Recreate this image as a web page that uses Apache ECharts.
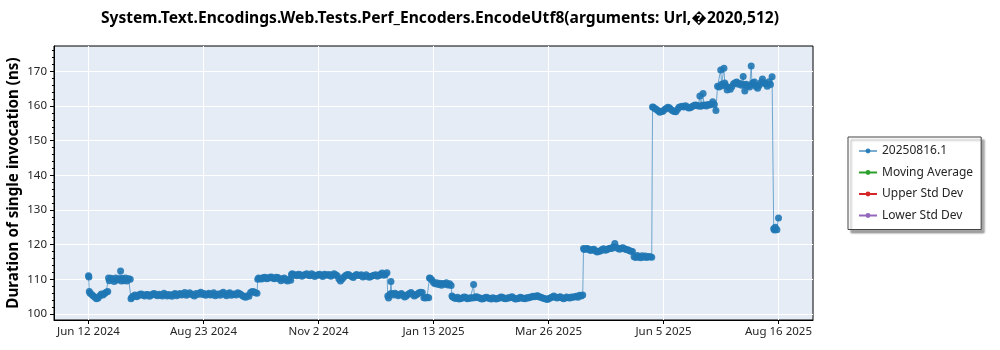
<!DOCTYPE html>
<html>
<head>
<meta charset="utf-8">
<script src="https://cdn.jsdelivr.net/npm/echarts@6/dist/echarts.min.js"></script>
<style>html,body{margin:0;padding:0;background:#fff;}#chart{width:1000px;height:350px;}</style>
</head>
<body>
<div id="chart"></div>
<script>
const titleText = 'System.Text.Encodings.Web.Tests.Perf_Encoders.EncodeUtf8(arguments: Url,\uFFFD2020,512)';
const yAxisTitle = 'Duration of single invocation (ns)';
const seriesNames = ['20250816.1', 'Moving Average', 'Upper Std Dev', 'Lower Std Dev'];
const seriesColors = ['#1f77b4', '#2ca02c', '#d62728', '#9467bd'];
const xTickLabels = ['Jun 12 2024', 'Aug 23 2024', 'Nov 2 2024', 'Jan 13 2025', 'Mar 26 2025', 'Jun 5 2025', 'Aug 16 2025'];
const xTickStart = '2024-06-12';
const xTickEnd = '2025-08-16';
const yTickValues = [100, 110, 120, 130, 140, 150, 160, 170];

// list of consecutive calendar days of a month (date categories only)
function days(ym, a, b) { const r = []; for (let d = a; d <= b; d++) r.push(ym + '-' + (d < 10 ? '0' : '') + d); return r; }

const dates = [
  '2024-06-12 00','2024-06-12 06','2024-06-12 12', ...days('2024-06',13,24),
  '2024-06-24 12', ...days('2024-06',25,30), ...days('2024-07',1,2), '2024-07-02 12', ...days('2024-07',3,8),
  '2024-07-08 12', ...days('2024-07',9,31),
  ...days('2024-08',1,31),
  ...days('2024-09',1,25),
  '2024-09-25 12', ...days('2024-09',26,30), ...days('2024-10',1,16),
  '2024-10-16 12', ...days('2024-10',17,31),
  ...days('2024-11',1,30),
  ...days('2024-12',1,15),
  '2024-12-15 12','2024-12-16','2024-12-17','2024-12-17 12', ...days('2024-12',18,31), ...days('2025-01',1,10),
  '2025-01-10 12', ...days('2025-01',11,24),
  '2025-01-24 12', ...days('2025-01',25,31),
  ...days('2025-02',1,7), '2025-02-07 12', ...days('2025-02',8,28),
  ...days('2025-03',1,31),
  ...days('2025-04',1,16),
  '2025-04-16 12', ...days('2025-04',17,30),
  ...days('2025-05',1,17),
  ...days('2025-05',18,29),
  '2025-05-29 12', ...days('2025-05',30,31), ...days('2025-06',1,28), '2025-06-28 12', '2025-06-29', '2025-06-30', '2025-06-30 12', ...days('2025-07',1,8),
  ...days('2025-07',9,11), '2025-07-11 12', ...days('2025-07',12,13), '2025-07-13 12', ...days('2025-07',14,25), '2025-07-25 12', ...days('2025-07',26,30), '2025-07-30 12', '2025-07-31',
  ...days('2025-08',1,12),
  '2025-08-13','2025-08-13 12','2025-08-14','2025-08-15','2025-08-16'
];
const values = [
  111.0,110.7,106.5, 106.0,105.6,105.2,104.8,104.4,104.6,105.3,105.8,105.5,105.9,106.3,106.5,
  110.4, 109.6,110.3,110.0,109.4,110.4,109.8, 110.2,112.4, 109.5, 110.3,109.6,110.4,109.5,110.2,110.0,
  104.4, 104.8,105.2,105.5,105.0,105.3,105.7,105.8,105.4,105.2,105.6,105.6,105.1,105.4,105.8,105.9,105.5,105.3,105.7,105.5,105.2,106.0,105.6,105.2,
  105.6,105.4,105.1,105.7,105.9,105.3,105.6,105.9,105.5,105.8,106.2,105.4,105.7,106.1,105.8,105.5,105.2,105.9,105.6,106.0,106.3,105.6,105.9,105.4,105.7,106.0,105.5,105.7,106.1,105.3,105.6,
  105.8,105.4,106.0,106.3,105.6,105.3,105.9,106.1,105.4,105.7,105.8,105.5,106.1,105.9,105.6,105.3,105.0,104.8,105.3,105.1,106.2,106.5,106.4,106.1,106.0,
  110.0, 110.4,110.2,110.1,110.5,110.6, 110.2,110.3,110.6,110.7,110.3,110.2,110.6,110.5,110.1,109.6,110.2,110.4,109.8,109.5,110.0,109.7,
  111.4, 111.6,111.2,111.3,111.0,111.5,111.3,110.9,111.2,111.4,111.6,111.2,111.0,111.6,111.3,110.8,
  111.1,111.3,111.5,111.1,110.8,111.5,111.3,111.2,111.4,110.9,111.2,111.6,111.3,111.0,110.2,109.5,110.1,110.6,111.0,111.3,111.4,111.0,110.8,110.5,111.0,111.4,111.2,111.1,111.3,110.7,
  110.9,111.3,110.9,110.6,110.8,111.0,111.2,111.3,110.9,111.1,111.5,111.8,111.2,111.4,111.9,
  105.2,104.6,105.8,109.4, 105.9,105.5,106.0,105.7,105.3,105.6,105.9,105.4,104.9,105.2,105.6,105.9,106.2,105.7, 105.2,105.5,105.8,106.1,106.3,106.2,104.7,104.6,104.8,104.7,
  110.4, 110.3,109.8,109.1,108.7,109.0,108.5,108.9,108.3,108.8,108.6,109.0,108.4,108.7,108.2,
  105.2, 104.9,104.6,104.5,104.8,104.3,104.5,104.6,
  104.9,104.8,104.4,104.5,104.7,104.6,108.5, 104.7, 104.9,105.0,104.7,104.6,104.3,104.4,104.7,104.8,104.6,104.5,104.3,104.7,104.5,104.3,104.5,104.6,104.9,104.8,104.5,104.4,104.6,
  104.6,104.8,105.0,104.6,104.3,104.4,104.5,104.8,104.7,104.5,104.4,104.7,104.6,104.8,104.9,105.1,105.0,105.2,105.3,104.9,104.8,104.6,104.5,104.3,104.2,104.5,104.7,104.9,105.2,104.8,104.6,
  104.8,105.0,104.7,104.4,104.6,104.9,104.7,104.6,104.9,104.8,105.0,105.1,104.8,105.4,105.2,105.5,
  118.9, 118.6,118.8,118.9,118.5,118.3,118.6,118.7,118.2,117.9,118.1,118.2,118.6,118.8,118.4,
  118.5,118.8,119.0,118.9,119.3,120.3,119.2,118.9,118.7,119.0,119.1,118.8,118.6,118.5,118.3,118.1,118.0,
  116.5,116.3,116.9,116.5,116.2,116.8,116.4,116.7,116.3,116.6,116.5,116.4,
  159.7, 159.6,159.3, 159.0,158.6,158.2,158.4,158.5,159.0,159.3,159.6,159.5,159.0,158.6,158.4,158.3,159.0,159.6,159.8,159.9,159.7,160.1,159.8,159.4,159.5,159.8,160.1,160.3,160.2,160.0,162.9, 159.9, 160.1, 163.6, 160.3, 160.2,160.0,160.4,160.3,160.5,161.2,160.4,158.7,
  165.7,165.5,170.4, 166.3, 165.8,170.9, 166.6, 166.0,164.6,165.3,164.8,165.6,166.4,166.7,166.9,166.3,166.5,166.0,168.5, 166.2, 164.3,166.3,165.8,165.5,171.5, 166.2, 166.7,
  166.9,165.6,165.1,166.0,166.8,167.8,166.6,166.4,165.7,167.0,166.2,168.4,
  124.6,124.2,125.0,124.3,127.7
];
if (dates.length !== values.length) throw new Error('length mismatch ' + dates.length + ' vs ' + values.length);

function toTs(s) {
  const p = s.split(/[- ]/).map(Number);
  return Date.UTC(p[0], p[1] - 1, p[2], p[3] || 0);
}
const DAY = 86400000;
const tStart = toTs(xTickStart), tEnd = toTs(xTickEnd);
const xTickValues = xTickLabels.map((_, i) => tStart + (tEnd - tStart) * i / (xTickLabels.length - 1));
const pad = (tEnd - tStart) * 0.05;
const xMin = tStart - pad, xMax = tEnd + pad;
const yMin = 98.27, yMax = 177.3;
const yMinorValues = [];
for (let v = 100; v <= 176; v += 2) yMinorValues.push(v);

const mainData = dates.map((d, i) => [toTs(d), values[i]]);

const font = '"Noto Sans", "Open Sans", sans-serif';
const chart = echarts.init(document.getElementById('chart'), null, {renderer: 'canvas'});
chart.setOption({
  animation: false,
  backgroundColor: '#ffffff',
  textStyle: {fontFamily: font},
  graphic: [{
    type: 'text', x: 440, y: 19,
    style: {text: titleText, fill: '#000', font: 'bold 15.6px ' + font, textAlign: 'center', textVerticalAlign: 'middle'}
  }, {
    type: 'text', x: 14, y: 183, rotation: Math.PI / 2,
    style: {text: yAxisTitle, fill: '#000', font: 'bold 15.2px ' + font, textAlign: 'center', textVerticalAlign: 'middle'}
  }],
  grid: {left: 54, right: 187, top: 46, bottom: 30, show: true, backgroundColor: '#e5ecf6', borderColor: '#000', borderWidth: 1, containLabel: false, outerBoundsMode: 'none'},
  legend: {
    orient: 'vertical', left: 848, top: 137,
    data: seriesNames,
    itemWidth: 18, itemHeight: 6, itemGap: 9.5,
    padding: [8, 8, 8, 10],
    backgroundColor: '#fff', borderColor: '#444', borderWidth: 1,
    shadowColor: 'rgba(0,0,0,0.35)', shadowBlur: 2, shadowOffsetX: 3, shadowOffsetY: 3,
    textStyle: {fontSize: 12, color: '#262626', fontFamily: font}
  },
  xAxis: {
    type: 'value', min: xMin, max: xMax,
    axisLine: {show: true, lineStyle: {color: '#000', width: 1}},
    axisTick: {show: true, length: 4, lineStyle: {color: '#000'}, customValues: xTickValues},
    axisLabel: {
      customValues: xTickValues, fontSize: 11.5, color: '#262626', margin: 6,
      formatter: function (v) { const i = xTickValues.findIndex(t => Math.abs(t - v) < DAY); return i >= 0 ? xTickLabels[i] : ''; }
    },
    splitLine: {show: true, lineStyle: {color: '#ffffff', width: 1}}
  },
  yAxis: [{
    type: 'value', min: yMin, max: yMax,
    axisLine: {show: true, lineStyle: {color: '#000', width: 1}},
    axisTick: {show: true, length: 4, lineStyle: {color: '#000'}, customValues: yTickValues},
    axisLabel: {customValues: yTickValues, fontSize: 11.5, color: '#262626', margin: 7},
    splitLine: {show: true, lineStyle: {color: '#ffffff', width: 1}}
  }, {
    type: 'value', min: yMin, max: yMax, position: 'left',
    axisLine: {show: false},
    axisTick: {show: true, length: 2, lineStyle: {color: '#000'}, customValues: yMinorValues},
    axisLabel: {show: false},
    splitLine: {show: false}
  }],
  series: [{
    name: seriesNames[0], type: 'line', data: mainData,
    color: seriesColors[0],
    symbol: 'circle', symbolSize: 7, showSymbol: true,
    lineStyle: {width: 1, color: seriesColors[0], opacity: 0.6},
    itemStyle: {color: seriesColors[0], opacity: 0.9},
    emphasis: {disabled: true}
  }, {
    name: seriesNames[1], type: 'line', data: [], color: seriesColors[1], symbol: 'circle', symbolSize: 6, lineStyle: {width: 1}
  }, {
    name: seriesNames[2], type: 'line', data: [], color: seriesColors[2], symbol: 'circle', symbolSize: 6, lineStyle: {width: 1}
  }, {
    name: seriesNames[3], type: 'line', data: [], color: seriesColors[3], symbol: 'circle', symbolSize: 6, lineStyle: {width: 1}
  }]
});
</script>
</body>
</html>
